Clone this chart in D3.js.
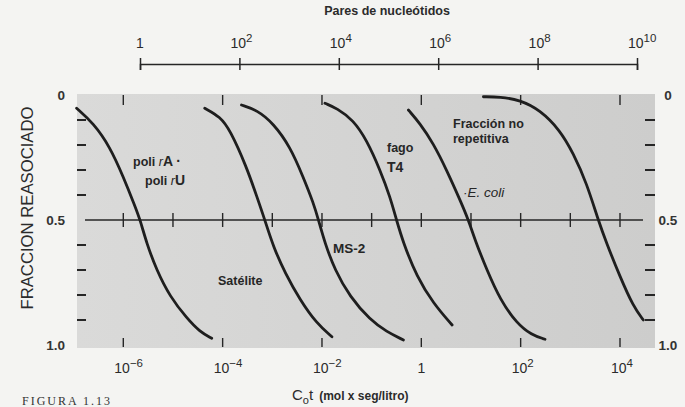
<!DOCTYPE html>
<html>
<head>
<meta charset="utf-8">
<script src="https://cdn.jsdelivr.net/npm/d3@7"></script>
<style>
  body { margin: 0; background: #f4f4f2; }
  svg { display: block; font-family: "Liberation Sans", Arial, sans-serif; }
</style>
</head>
<body>
<div id="chart"></div>
<script>
var poliCot  = [-6.94, -6.60, -6.27, -6.00, -5.76, -5.66, -5.53, -5.33, -5.06, -4.72, -4.46, -4.22];
var poliFrac = [0.053, 0.113, 0.207, 0.327, 0.447, 0.5, 0.593, 0.70, 0.807, 0.893, 0.947, 0.973];

var satCot  = [-4.36, -4.05, -3.85, -3.52, -3.31, -3.15, -2.98, -2.74, -2.44, -2.11, -1.80];
var satFrac = [0.053, 0.087, 0.14, 0.287, 0.407, 0.5, 0.607, 0.713, 0.82, 0.913, 0.967];

var ms2Cot  = [-3.62, -3.31, -2.98, -2.64, -2.38, -2.17, -2.07, -1.94, -1.74, -1.44, -1.03, -0.70, -0.36];
var ms2Frac = [0.04, 0.06, 0.113, 0.207, 0.327, 0.433, 0.5, 0.593, 0.70, 0.807, 0.90, 0.947, 0.98];

var t4Cot  = [-1.94, -1.70, -1.37, -1.10, -0.83, -0.63, -0.50, -0.36, -0.09, 0.24, 0.62];
var t4Frac = [0.033, 0.053, 0.10, 0.18, 0.30, 0.407, 0.5, 0.593, 0.727, 0.833, 0.92];

var coliCot  = [-0.26, -0.03, 0.24, 0.51, 0.78, 0.95, 1.08, 1.32, 1.59, 1.92, 2.22, 2.49];
var coliFrac = [0.06, 0.113, 0.193, 0.30, 0.42, 0.5, 0.58, 0.70, 0.82, 0.913, 0.96, 0.977];

var noRepCot  = [1.25, 1.58, 1.99, 2.39, 2.79, 3.06, 3.33, 3.56, 3.73, 4.00, 4.27, 4.47];
var noRepFrac = [0.007, 0.007, 0.02, 0.06, 0.14, 0.233, 0.353, 0.5, 0.593, 0.727, 0.847, 0.90];

// tick values
var cotTicks = [-6, -4, -2, 0, 2, 4];                         // bottom labels (exponents)
var cotDecades = [-6, -5, -4, -3, -2, -1, 0, 1, 2, 3, 4];      // ticks on the 0.5 line
var pairTicks = [0, 2, 4, 6, 8, 10];                           // top axis exponents
var fracLabels = [0, 0.5, 1];
var fracTicks = [0.1, 0.2, 0.3, 0.4, 0.6, 0.7, 0.8, 0.9];

var width = 685, height = 407;
var ink = "#262626";

var svg = d3.select("#chart").append("svg")
    .attr("width", width)
    .attr("height", height);

// scales
var x = d3.scaleLog().domain([1e-6, 1e4]).range([123.3, 620]);
var xTop = d3.scaleLog().domain([1, 1e10]).range([140, 637]);
var y = d3.scaleLinear().domain([0, 1]).range([95, 345]);

function p10(e) { return Math.pow(10, e); }

// grey plot area
var grad = svg.append("defs").append("linearGradient").attr("id", "bg");
grad.append("stop").attr("offset", "0%").attr("stop-color", "#dadad9");
grad.append("stop").attr("offset", "100%").attr("stop-color", "#cdcdcc");
svg.append("rect")
    .attr("x", 77).attr("y", 94)
    .attr("width", 578).attr("height", 254)
    .attr("fill", "url(#bg)");

// top axis: Pares de nucleotidos
var topAxis = svg.append("g")
    .attr("transform", "translate(0,64)")
    .call(d3.axisBottom(xTop).tickValues(pairTicks.map(p10)).tickSize(6).tickFormat(""));
topAxis.select(".domain").attr("stroke", ink).attr("stroke-width", 1.5);
topAxis.selectAll(".tick line").attr("y1", -6).attr("y2", 6).attr("stroke", ink).attr("stroke-width", 1.5);

function powLabel(sel, scale, yPos, size) {
    sel.each(function(e) {
        var t = d3.select(this).attr("y", yPos).attr("fill", "#2b2b2b").style("font-size", size + "px");
        if (e === 0) {
            t.attr("x", scale(1)).attr("text-anchor", "middle").text("1");
        } else {
            t.attr("x", scale(p10(e)) - 9).attr("text-anchor", "start");
            t.append("tspan").text("10");
            t.append("tspan").attr("dy", -6).style("font-size", (size - 2.5) + "px")
                .text(e < 0 ? "\u2212" + (-e) : e);
        }
    });
}

svg.append("g").selectAll("text").data(pairTicks).join("text")
    .call(powLabel, xTop, 48, 14);

svg.append("text")
    .attr("x", 387).attr("y", 15)
    .attr("text-anchor", "middle")
    .attr("fill", "#2b2b2b")
    .style("font-size", "12.5px").style("font-weight", "bold")
    .text("Pares de nucle\u00f3tidos");

// inner ticks at top and bottom of plot area
var inner = svg.append("g").attr("stroke", ink).attr("stroke-width", 1.4);
inner.selectAll("line.top").data(cotTicks).join("line").attr("class", "top")
    .attr("x1", function(d) { return x(p10(d)); }).attr("x2", function(d) { return x(p10(d)); })
    .attr("y1", 95).attr("y2", 105);
inner.selectAll("line.bot").data(cotTicks).join("line").attr("class", "bot")
    .attr("x1", function(d) { return x(p10(d)); }).attr("x2", function(d) { return x(p10(d)); })
    .attr("y1", 338).attr("y2", 347);

// 0.5 reference line with decade ticks
svg.append("line")
    .attr("x1", 85).attr("x2", 643)
    .attr("y1", y(0.5)).attr("y2", y(0.5))
    .attr("stroke", ink).attr("stroke-width", 1.4);
inner.selectAll("line.mid").data(cotDecades).join("line").attr("class", "mid")
    .attr("x1", function(d) { return x(p10(d)); }).attr("x2", function(d) { return x(p10(d)); })
    .attr("y1", y(0.5) - 7).attr("y2", y(0.5) + 7);

// left and right dashes
inner.selectAll("line.ldash").data(fracTicks).join("line").attr("class", "ldash")
    .attr("x1", 77).attr("x2", 86)
    .attr("y1", function(d) { return y(d); }).attr("y2", function(d) { return y(d); })
    .attr("stroke-width", 2);
inner.selectAll("line.rdash").data(fracTicks).join("line").attr("class", "rdash")
    .attr("x1", 645).attr("x2", 655)
    .attr("y1", function(d) { return y(d); }).attr("y2", function(d) { return y(d); })
    .attr("stroke-width", 2);

// fraction labels on both sides
function fracText(v) { return v === 0 ? "0" : v.toFixed(1); }
svg.append("g").selectAll("text").data(fracLabels).join("text")
    .attr("x", 65).attr("y", function(d) { return y(d) + 5; })
    .attr("text-anchor", "end")
    .attr("fill", "#333").style("font-size", "13.5px").style("font-weight", "bold")
    .text(fracText);
svg.append("g").selectAll("text").data(fracLabels).join("text")
    .attr("x", 668).attr("y", function(d) { return y(d) + 5; })
    .attr("text-anchor", "middle")
    .attr("fill", "#333").style("font-size", "13.5px").style("font-weight", "bold")
    .text(fracText);

// y title
svg.append("text")
    .attr("transform", "translate(33,208) rotate(-90)")
    .attr("text-anchor", "middle")
    .attr("fill", "#2b2b2b")
    .style("font-size", "16.7px")
    .text("FRACCION REASOCIADO");

// bottom labels
svg.append("g").selectAll("text").data(cotTicks).join("text")
    .call(powLabel, x, 373, 14);

// x title: Cot (mol x seg/litro)
var xt = svg.append("text").attr("x", 292).attr("y", 400).attr("fill", "#2b2b2b");
xt.append("tspan").style("font-size", "15px").text("C");
xt.append("tspan").attr("dy", 4).style("font-size", "11px").text("o");
xt.append("tspan").attr("dy", -4).style("font-size", "15px").text("t");
xt.append("tspan").attr("dx", 6).style("font-size", "12px").style("font-weight", "bold")
    .text("(mol x seg/litro)");

// figure caption at the bottom edge
svg.append("text")
    .attr("x", 22).attr("y", 405)
    .attr("fill", "#333")
    .style("font-family", "'Liberation Serif', 'Times New Roman', serif")
    .style("font-size", "12px").style("letter-spacing", "2px")
    .text("FIGURA  1.13");

// curves
var curves = [
    { cot: poliCot, frac: poliFrac },
    { cot: satCot, frac: satFrac },
    { cot: ms2Cot, frac: ms2Frac },
    { cot: t4Cot, frac: t4Frac },
    { cot: coliCot, frac: coliFrac },
    { cot: noRepCot, frac: noRepFrac }
];

var line = d3.line()
    .x(function(d) { return x(p10(d[0])); })
    .y(function(d) { return y(d[1]); })
    .curve(d3.curveBasis);

svg.append("g").selectAll("path").data(curves).join("path")
    .attr("d", function(c) { return line(d3.zip(c.cot, c.frac)); })
    .attr("fill", "none")
    .attr("stroke", "#1e1e1e")
    .attr("stroke-width", 2.8)
    .attr("stroke-linecap", "round");

// curve annotations
var notes = svg.append("g").attr("fill", "#262626").style("font-weight", "bold").style("font-size", "12.5px");

var pa = notes.append("text").attr("x", 133).attr("y", 166);
pa.append("tspan").text("poli ");
pa.append("tspan").style("font-style", "italic").style("font-weight", "normal").text("r");
pa.append("tspan").style("font-size", "14px").text("A \u00b7");
var pu = notes.append("text").attr("x", 145).attr("y", 185);
pu.append("tspan").text("poli ");
pu.append("tspan").style("font-style", "italic").style("font-weight", "normal").text("r");
pu.append("tspan").style("font-size", "14px").text("U");

notes.append("text").attr("x", 218).attr("y", 285).text("Sat\u00e9lite");
notes.append("text").attr("x", 333).attr("y", 253).style("font-size", "13.5px").text("MS-2");
notes.append("text").attr("x", 387).attr("y", 152).text("fago");
notes.append("text").attr("x", 387).attr("y", 172).style("font-size", "14px").text("T4");
notes.append("text").attr("x", 453).attr("y", 128).text("Fracci\u00f3n no");
notes.append("text").attr("x", 453).attr("y", 143).text("repetitiva");
notes.append("text").attr("x", 463).attr("y", 197)
    .style("font-weight", "normal").style("font-style", "italic").style("font-size", "13.5px")
    .text("\u00b7E. coli");
</script>
</body>
</html>
